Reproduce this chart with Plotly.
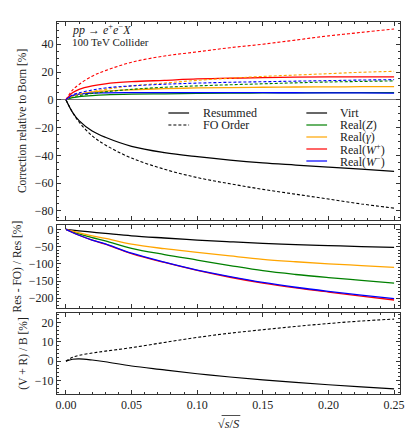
import plotly.graph_objects as go
from plotly.subplots import make_subplots

# sqrt(s/S) sample points
x = [0.0, 0.005, 0.01, 0.02, 0.03, 0.05, 0.075, 0.1, 0.125, 0.15, 0.175, 0.2, 0.225, 0.25]

# top panel: correction relative to Born [%] (resummed / fixed order)
virt_res = [0, -9, -15, -22.5, -27, -33.5, -38, -41, -43.5, -45.5, -47, -48.5, -50, -51.5]
virt_fo = [0, -9, -16, -26, -32.5, -42, -50, -56, -60.5, -64.5, -68, -71.5, -75, -78]
z_res = [0, 1.5, 2.2, 3, 3.5, 4, 4.3, 4.6, 4.8, 4.9, 5, 5.1, 5.15, 5.2]
z_fo = [0, 2, 3, 4.5, 5.7, 7.5, 9, 10, 10.8, 11.5, 12.2, 12.8, 13.2, 13.6]
gam_res = [0, 3, 4, 5.5, 6.3, 7.2, 8, 8.5, 8.8, 9, 9.2, 9.3, 9.4, 9.5]
gam_fo = [0, 2.5, 4, 6, 7.5, 10, 12, 14, 15.5, 16.8, 17.8, 18.8, 19.8, 20.5]
wp_res = [0, 5, 7.5, 10, 11.5, 13, 14, 15, 15.5, 16, 16.3, 16.5, 16.5, 16.5]
wp_fo = [0, 7, 11, 17, 21, 27, 31.5, 34.5, 37.5, 40, 43, 46, 48.5, 51]
wm_res = [0, 3, 4, 4.8, 5, 5.2, 5.2, 5.2, 5.2, 5.1, 5.05, 5, 4.9, 4.8]
wm_fo = [0, 3.5, 5, 7, 8.5, 10, 11.2, 12, 12.6, 13, 13.4, 13.8, 14.2, 14.5]

# middle panel: (Res - FO) / Res [%]
virt_diff = [0, -2, -4, -8, -11.5, -18.5, -25, -31, -36, -40.5, -44, -47, -50, -52]
z_diff = [0, -7, -13, -24, -33, -55, -73, -89, -105, -120, -131, -140, -148, -156]
gam_diff = [0, -5, -10, -19, -26, -43, -56, -66.5, -77, -87, -94, -100, -105, -110]
wp_diff = [0, -9, -17, -31, -43, -70, -96, -119, -139, -156, -170, -182, -194, -205]
wm_diff = [0, -9, -17, -31, -42, -69, -95, -118, -137, -154, -168, -180, -191, -201]

# bottom panel: (V + R) / B [%]
vr_res = [0, 1, 1.2, 0.6, -0.3, -2.5, -4.5, -6.5, -8.2, -9.7, -11, -12.2, -13.3, -14.3]
vr_fo = [0, 2, 3, 4.2, 5.2, 7, 9.7, 12.3, 14.5, 16.3, 18, 19.5, 20.8, 21.8]

names = ['Virt', 'Real(<i>Z</i>)', 'Real(<i>γ</i>)', 'Real(<i>W</i><sup>+</sup>)', 'Real(<i>W</i><sup>−</sup>)']
colors = ['black', '#008000', '#ffa500', '#ff0000', '#0000ff']
res_top = [virt_res, z_res, gam_res, wp_res, wm_res]
fo_top = [virt_fo, z_fo, gam_fo, wp_fo, wm_fo]
diffs = [virt_diff, z_diff, gam_diff, wp_diff, wm_diff]

FONT = 'Liberation Serif, DejaVu Serif, Times New Roman, serif'
TXT = '#222'

fig = make_subplots(rows=3, cols=1, shared_xaxes=True)

# top panel
for ys, c in zip(res_top, colors):
    fig.add_trace(go.Scatter(x=x, y=ys, mode='lines', line=dict(color=c, width=1.3, shape='spline'),
                             showlegend=False), row=1, col=1)
for ys, c in zip(fo_top, colors):
    fig.add_trace(go.Scatter(x=x, y=ys, mode='lines',
                             line=dict(color=c, width=1.1, dash='3px,2px', shape='spline'),
                             showlegend=False), row=1, col=1)

# middle panel
for ys, c in zip(diffs, colors):
    fig.add_trace(go.Scatter(x=x, y=ys, mode='lines', line=dict(color=c, width=1.3, shape='spline'),
                             showlegend=False), row=2, col=1)

# bottom panel
fig.add_trace(go.Scatter(x=x, y=vr_res, mode='lines', line=dict(color='black', width=1.2, shape='spline'),
                         showlegend=False), row=3, col=1)
fig.add_trace(go.Scatter(x=x, y=vr_fo, mode='lines',
                         line=dict(color='black', width=1.1, dash='3px,2px', shape='spline'),
                         showlegend=False), row=3, col=1)

# hand-drawn legend (two columns, paper coords)
def px(xp):
    return (xp - 57) / 348

def py(yp):
    return (394 - yp) / 372

left_items = [('Resummed', 'solid'), ('FO Order', '3px,2px')]
for i, (lab, dash) in enumerate(left_items):
    yy = 113 + 12 * i
    fig.add_shape(type='line', xref='paper', yref='paper', x0=px(170), x1=px(191), y0=py(yy), y1=py(yy),
                  line=dict(color='black', width=1.2, dash=dash))
    fig.add_annotation(text=lab, xref='paper', yref='paper', x=px(203), y=py(yy), xanchor='left',
                       yanchor='middle', showarrow=False, font=dict(family=FONT, size=12, color=TXT))
for i, (lab, c) in enumerate(zip(names, colors)):
    yy = 113 + 12 * i
    fig.add_shape(type='line', xref='paper', yref='paper', x0=px(310), x1=px(331), y0=py(yy), y1=py(yy),
                  line=dict(color=c, width=1.2))
    fig.add_annotation(text=lab, xref='paper', yref='paper', x=px(342), y=py(yy), xanchor='left',
                       yanchor='middle', showarrow=False, font=dict(family=FONT, size=12, color=TXT))

fig.add_annotation(text='<i>pp</i> → <i>e</i><sup>+</sup><i>e</i><sup>−</sup><i>X</i>', xref='paper', yref='paper',
                   x=px(70), y=py(30), xanchor='left', yanchor='middle', showarrow=False,
                   font=dict(family=FONT, size=12, color=TXT))
fig.add_annotation(text='100 TeV Collider', xref='paper', yref='paper', x=px(70), y=py(42), xanchor='left',
                   yanchor='middle', showarrow=False, font=dict(family=FONT, size=11, color=TXT))

axis_style = dict(showline=True, linecolor='#333', linewidth=1, mirror='allticks', ticks='inside',
                  ticklen=4, tickcolor='#333', showgrid=False,
                  tickfont=dict(family=FONT, size=12, color=TXT))

fig.update_xaxes(**axis_style, range=[-0.0068, 0.2545], dtick=0.05, tick0=0, tickformat='.2f',
                 zeroline=False, minor=dict(dtick=0.01, ticks='inside', ticklen=2, tickcolor='#333'))
fig.update_xaxes(title=dict(text='√<i>s</i>/<i>S</i>',
                            font=dict(family=FONT, size=12.5, color=TXT), standoff=7), row=3, col=1)

fig.update_yaxes(**axis_style)
fig.update_yaxes(domain=[0.468, 1], range=[-86.5, 56], dtick=20, zeroline=True, zerolinecolor='#777',
                 zerolinewidth=1, minor=dict(dtick=5, ticks='inside', ticklen=2, tickcolor='#333'),
                 title=dict(text='Correction relative to Born [%]', font=dict(family=FONT, size=11.5, color=TXT),
                            standoff=5), row=1, col=1)
fig.update_yaxes(domain=[0.231, 0.454], range=[-228.5, 12.5], dtick=50, zeroline=False,
                 minor=dict(dtick=10, ticks='inside', ticklen=2, tickcolor='#333'),
                 title=dict(text='Res - FO) / Res [%]', font=dict(family=FONT, size=11.5, color=TXT),
                            standoff=4), row=2, col=1)
fig.update_yaxes(domain=[0, 0.218], range=[-17, 25], dtick=10, zeroline=False,
                 minor=dict(dtick=2, ticks='inside', ticklen=2, tickcolor='#333'),
                 title=dict(text='(V + R) / B [%]', font=dict(family=FONT, size=11.5, color=TXT),
                            standoff=4), row=3, col=1)

# overline of the square root over s/S
fig.add_shape(type='line', xref='paper', yref='paper', x0=px(224), x1=px(243), y0=py(415.5), y1=py(415.5),
              line=dict(color=TXT, width=0.8))

fig.update_layout(width=415, height=441, margin=dict(l=57, r=10, t=22, b=47),
                  paper_bgcolor='white', plot_bgcolor='white', showlegend=False,
                  font=dict(family=FONT))

fig.write_html("out.html", config={'displayModeBar': False},
               post_script="document.body.style.margin='0';document.body.style.overflow='hidden';")
